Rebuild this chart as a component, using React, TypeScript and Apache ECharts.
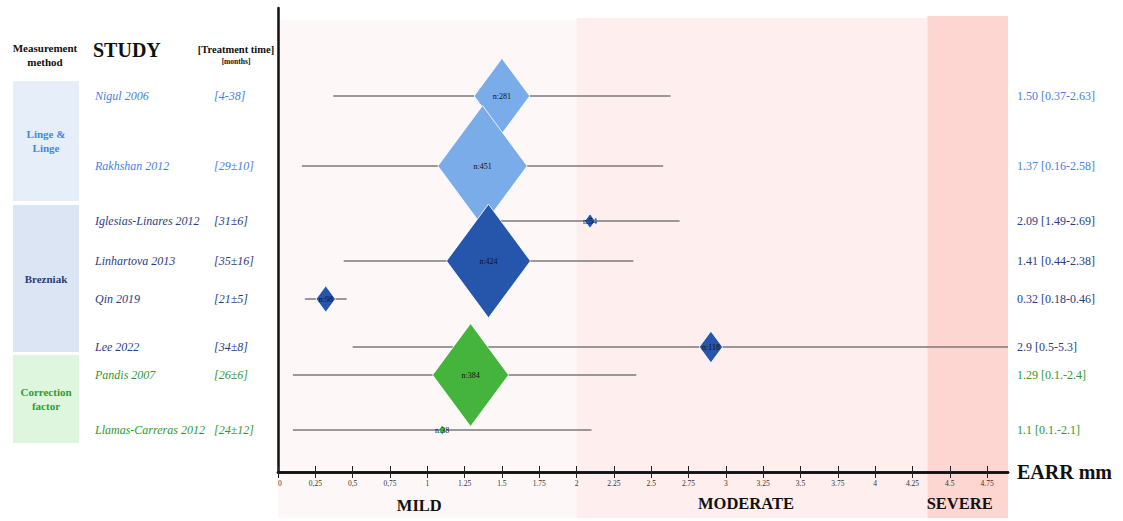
import { useEffect, useRef } from 'react';
import * as echarts from 'echarts';

// ---- Study data ----
const studies = ['Nigul 2006', 'Rakhshan 2012', 'Iglesias-Linares 2012', 'Linhartova 2013', 'Qin 2019', 'Lee 2022', 'Pandis 2007', 'Llamas-Carreras 2012'];
const treatmentTime = ['[4-38]', '[29±10]', '[31±6]', '[35±16]', '[21±5]', '[34±8]', '[26±6]', '[24±12]'];
const methodOfStudy = [0, 0, 1, 1, 1, 1, 2, 2];
const methodNames = ['Linge &\nLinge', 'Brezniak', 'Correction\nfactor'];
const earrMean = [1.5, 1.37, 2.09, 1.41, 0.32, 2.9, 1.29, 1.1];
const ciLow = [0.37, 0.16, 1.49, 0.44, 0.18, 0.5, 0.1, 0.1];
const ciHigh = [2.63, 2.58, 2.69, 2.38, 0.46, 5.3, 2.4, 2.1];
const sampleSize = [281, 451, 54, 424, 98, 118, 384, 38];
const summaryText = ['1.50 [0.37-2.63]', '1.37 [0.16-2.58]', '2.09 [1.49-2.69]', '1.41 [0.44-2.38]', '0.32 [0.18-0.46]', '2.9 [0.5-5.3]', '1.29 [0.1.-2.4]', '1.1 [0.1.-2.1]'];

// ---- Axis ticks ----
const tickValues = [0, 0.25, 0.5, 0.75, 1, 1.25, 1.5, 1.75, 2, 2.25, 2.5, 2.75, 3, 3.25, 3.5, 3.75, 4, 4.25, 4.5, 4.75];
const tickLabels = ['0', '0,25', '0,5', '0,75', '1', '1.25', '1.5', '1.75', '2', '2.25', '2.5', '2.75', '3', '3.25', '3.5', '3.75', '4', '4.25', '4.5', '4.75'];

// ---- Severity bands ----
const bandNames = ['MILD', 'MODERATE', 'SEVERE'];
const bandFrom = [0, 2, 4.35];
const bandTo = [2, 4.35, 4.89];

// ---- Layout ----
const X_MAX = 4.89;
const Y_MAX = 464;
// vertical slot of each study row, measured upward from the axis line
const rowLevel = [376, 306, 251, 211, 173, 125, 97, 42];
const bandTop = [452, 454, 456];
const bandColors = ['#fdf8f7', '#feeeed', '#fdd6d1'];
const bandLabelOffset = [[-8, 0], [-6, -2], [-8, -2]];

const SERIF = '"Liberation Serif", "DejaVu Serif", serif';
const groupText = ['#4a80e0', '#293d85', '#2d9a2d'];
const groupDiamond = ['#7bacea', '#2656ab', '#45b43d'];
const groupBox = ['#e6eef9', '#dbe5f4', '#dff6de'];
const groupMethodText = ['#4a86dc', '#2b3d78', '#2e9d35'];
const methodBoxes = [
  { top: 81, bottom: 201 },
  { top: 205, bottom: 352 },
  { top: 355, bottom: 443 },
];

const near = (arr: number[], v: number) => arr.findIndex((a) => Math.abs(a - v) < 1e-6);

export default function App() {
  const ref = useRef<HTMLDivElement>(null);

  useEffect(() => {
    if (!ref.current) return;
    const chart = echarts.init(ref.current, undefined, { renderer: 'svg' });

    const leftRich: Record<string, any> = {};
    const rightRich: Record<string, any> = {};
    groupText.forEach((c, g) => {
      leftRich['n' + g] = { width: 119, align: 'left', color: c, fontStyle: 'italic', fontSize: 12, fontFamily: SERIF };
      leftRich['t' + g] = { width: 58, align: 'left', color: c, fontStyle: 'italic', fontSize: 12, fontFamily: SERIF };
      rightRich['s' + g] = { color: c, fontSize: 12, fontFamily: SERIF };
    });

    const graphic: any[] = [
      {
        type: 'text', x: 45, y: 55,
        style: { text: 'Measurement\nmethod', font: `bold 11px ${SERIF}`, fill: '#111', align: 'center', verticalAlign: 'middle', lineHeight: 14 },
      },
      {
        type: 'text', x: 93, y: 50,
        style: { text: 'STUDY', font: `bold 20px ${SERIF}`, fill: '#111', align: 'left', verticalAlign: 'middle' },
      },
      {
        type: 'text', x: 236, y: 49,
        style: { text: '[Treatment time]', font: `bold 10.5px ${SERIF}`, fill: '#111', align: 'center', verticalAlign: 'middle' },
      },
      {
        type: 'text', x: 236, y: 61,
        style: { text: '[months]', font: `bold 7.5px ${SERIF}`, fill: '#111', align: 'center', verticalAlign: 'middle' },
      },
    ];
    methodBoxes.forEach((b, g) => {
      graphic.push({
        type: 'rect', shape: { x: 13, y: b.top, width: 66, height: b.bottom - b.top },
        style: { fill: groupBox[g] }, z: -1,
      });
      graphic.push({
        type: 'text', x: 46, y: (b.top + b.bottom) / 2,
        style: { text: methodNames[g], font: `bold 11px ${SERIF}`, fill: groupMethodText[g], align: 'center', verticalAlign: 'middle', lineHeight: 14 },
      });
    });

    const hiddenAxis = { show: false };

    const option: any = {
      animation: false,
      textStyle: { fontFamily: SERIF },
      grid: [
        // forest plot
        { left: 278, right: 115, top: 8, bottom: 49, containLabel: false, outerBoundsMode: 'none' },
        // severity strip below the axis
        { left: 278, right: 115, top: 472, bottom: 3, containLabel: false, outerBoundsMode: 'none' },
      ],
      xAxis: [
        {
          gridIndex: 0, type: 'value', min: 0, max: X_MAX, position: 'bottom', z: 10,
          axisLine: { onZero: false, lineStyle: { color: '#111', width: 2.5 } },
          axisTick: { show: true, customValues: tickValues, length: 6, lineStyle: { color: '#222', width: 1 } },
          axisLabel: {
            customValues: tickValues,
            formatter: (v: number) => tickLabels[near(tickValues, v)] ?? '',
            fontSize: 7.5, color: '#333', margin: 7, fontFamily: SERIF, alignMinLabel: 'left',
          },
          splitLine: { show: false },
          name: 'EARR mm', nameLocation: 'end', nameGap: 9,
          nameTextStyle: { fontSize: 20, fontWeight: 'bold', color: '#111', fontFamily: SERIF },
        },
        {
          gridIndex: 0, type: 'value', min: 0, max: X_MAX, position: 'bottom', z: 10,
          axisLine: { onZero: false, lineStyle: { color: '#111', width: 2.5 } },
          axisTick: { show: true, inside: true, customValues: tickValues, length: 6, lineStyle: { color: '#222', width: 1 } },
          axisLabel: { show: false },
          splitLine: { show: false },
        },
        { gridIndex: 1, type: 'value', min: 0, max: X_MAX, ...hiddenAxis },
      ],
      yAxis: [
        {
          gridIndex: 0, type: 'value', min: 0, max: Y_MAX, position: 'left', z: 10,
          axisLine: { show: true, onZero: false, lineStyle: { color: '#111', width: 2.5 } },
          axisTick: { show: false },
          splitLine: { show: false },
          axisLabel: {
            customValues: rowLevel,
            margin: 6,
            formatter: (v: number) => {
              const i = near(rowLevel, v);
              if (i < 0) return '';
              const g = methodOfStudy[i];
              return `{n${g}|${studies[i]}}{t${g}|${treatmentTime[i]}}`;
            },
            rich: leftRich,
          },
        },
        {
          gridIndex: 0, type: 'value', min: 0, max: Y_MAX, position: 'right',
          axisLine: { show: false, onZero: false },
          axisTick: { show: false },
          splitLine: { show: false },
          axisLabel: {
            customValues: rowLevel,
            margin: 9,
            formatter: (v: number) => {
              const i = near(rowLevel, v);
              if (i < 0) return '';
              return `{s${methodOfStudy[i]}|${summaryText[i]}}`;
            },
            rich: rightRich,
          },
        },
        { gridIndex: 1, type: 'value', min: 0, max: 1, ...hiddenAxis },
      ],
      graphic,
      series: [
        {
          type: 'custom',
          name: 'CI',
          xAxisIndex: 0,
          yAxisIndex: 0,
          z: 2,
          encode: { x: [0, 1], y: 2 },
          data: studies.map((_, i) => [ciLow[i], ciHigh[i], rowLevel[i]]),
          renderItem: (_params: any, api: any) => {
            const p1 = api.coord([api.value(0), api.value(2)]);
            const p2 = api.coord([Math.min(api.value(1), X_MAX), api.value(2)]);
            return {
              type: 'line',
              shape: { x1: p1[0], y1: p1[1], x2: p2[0], y2: p2[1] },
              style: { stroke: '#7a7a7a', lineWidth: 1.6 },
            };
          },
          markArea: {
            silent: true,
            data: bandNames.map((_name, b) => [
              { xAxis: bandFrom[b], yAxis: 0, itemStyle: { color: bandColors[b] } },
              { xAxis: bandTo[b], yAxis: bandTop[b] },
            ]),
          },
        },
        {
          type: 'scatter',
          name: 'Severity',
          xAxisIndex: 2,
          yAxisIndex: 2,
          data: [],
          markArea: {
            silent: true,
            data: bandNames.map((name, b) => [
              {
                name,
                xAxis: bandFrom[b],
                yAxis: 0,
                itemStyle: { color: bandColors[b] },
                label: { offset: bandLabelOffset[b] },
              },
              { xAxis: bandTo[b], yAxis: 1 },
            ]),
            label: {
              show: true, position: 'insideBottom', distance: 4,
              fontSize: 16.5, fontWeight: 'bold', color: '#111', fontFamily: SERIF,
            },
          },
        },
        {
          type: 'scatter',
          name: 'EARR',
          xAxisIndex: 0,
          yAxisIndex: 0,
          z: 3,
          symbol: 'diamond',
          symbolSize: (_v: any, p: any) => {
            const n = sampleSize[p.dataIndex];
            return [n * 0.198, n * 0.268];
          },
          data: earrMean.map((v, i) => ({
            value: [v, rowLevel[i]],
            itemStyle: { color: groupDiamond[methodOfStudy[i]], borderColor: '#ffffff', borderWidth: 0.8, opacity: 1 },
          })),
          itemStyle: { opacity: 1 },
          label: {
            show: true, position: 'inside',
            formatter: (p: any) => `n:${sampleSize[p.dataIndex]}`,
            fontSize: 8, color: '#111', fontFamily: SERIF,
          },
        },
      ],
    };

    chart.setOption(option);
    return () => chart.dispose();
  }, []);

  return (
    <div
      ref={ref}
      style={{ position: 'fixed', left: 0, top: 0, width: 1123, height: 521, background: '#ffffff' }}
    />
  );
}
